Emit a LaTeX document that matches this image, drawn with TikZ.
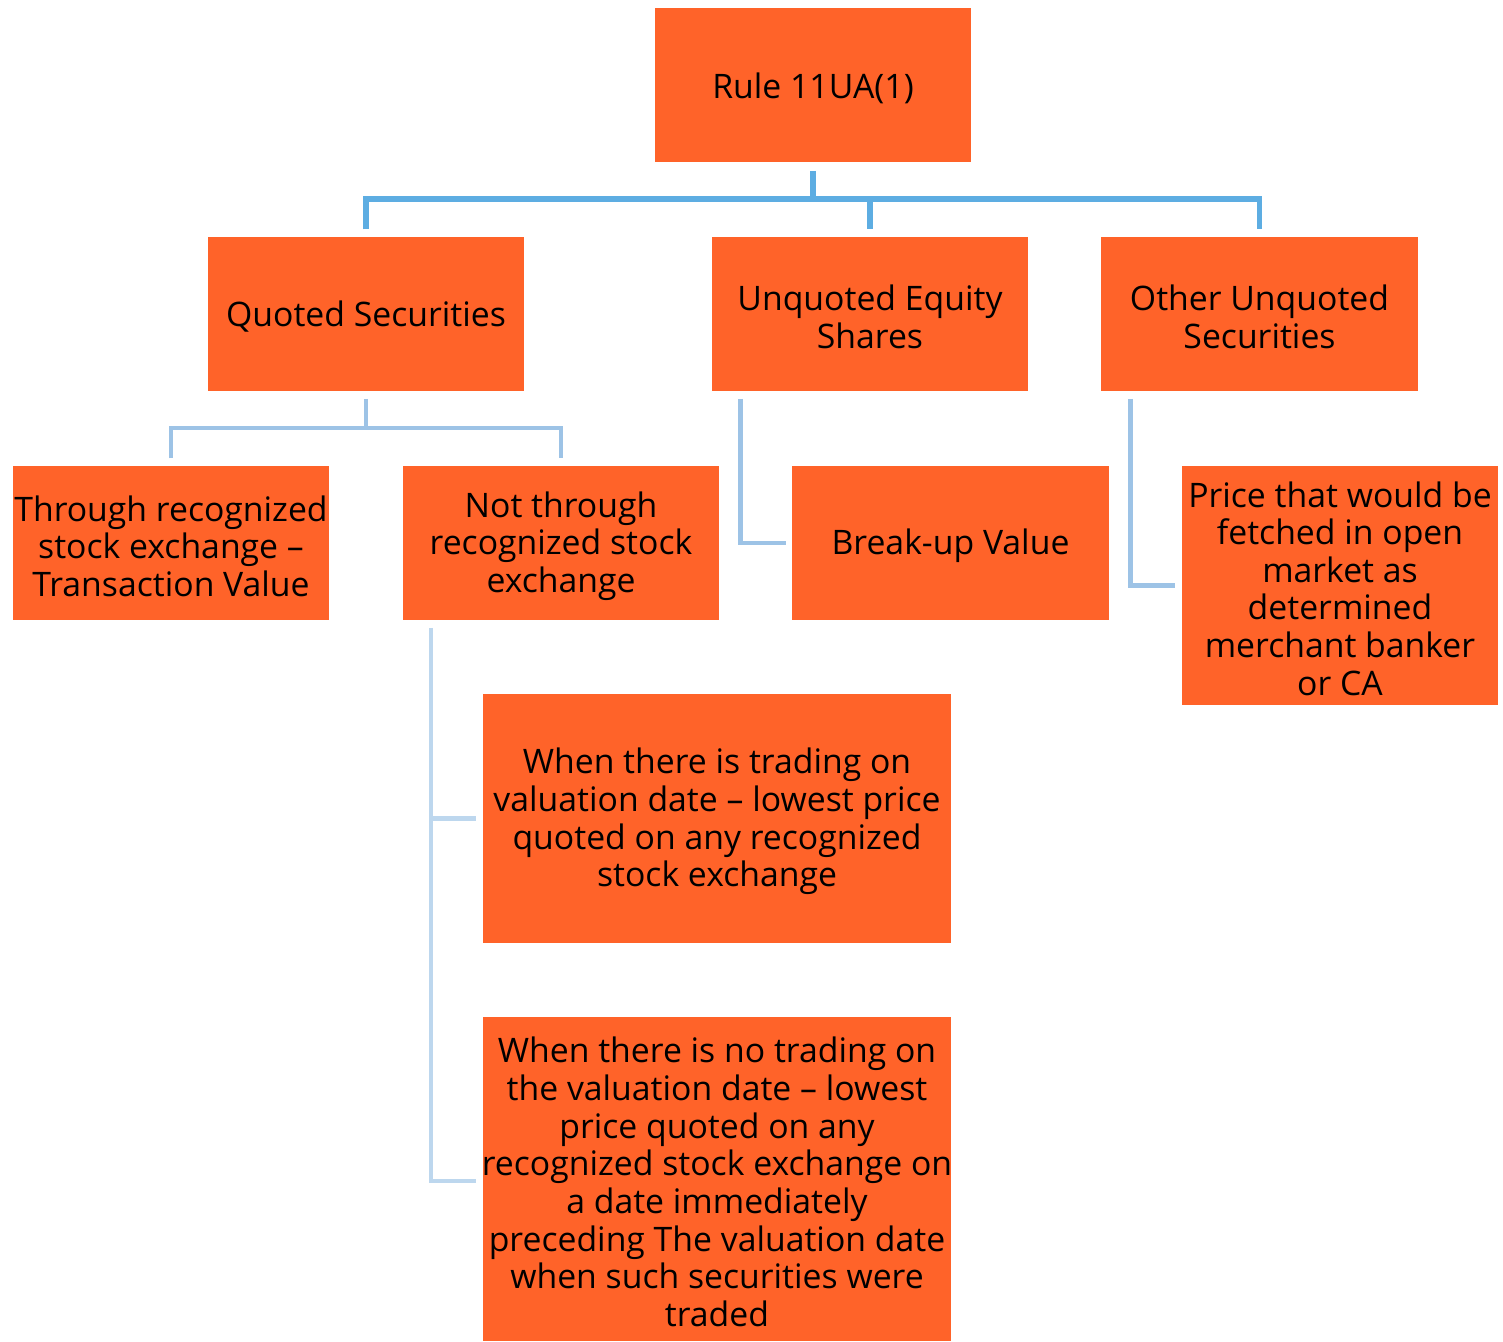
\documentclass[tikz,border=0pt]{standalone}
\usepackage{fontspec}
\setmainfont{Open Sans}
\usetikzlibrary{calc}
\definecolor{boxfill}{HTML}{FF6329}
\definecolor{linkA}{HTML}{5DADE2}
\definecolor{linkB}{HTML}{9DC3E6}
\definecolor{linkC}{HTML}{BDD7EE}
\tikzset{
  box/.style={fill=boxfill, draw=none, inner sep=0pt},
  boxtext/.style={inner sep=0pt, align=center, yshift=-0.85pt,
    font=\fontsize{9.6pt}{10.7pt}\selectfont, text=black},
  linkone/.style={draw=linkA, line width=1.45pt},
  linktwo/.style={draw=linkB, line width=1.3pt},
  linkthree/.style={draw=linkC, line width=1.3pt},
}
\begin{document}
\begin{tikzpicture}[x=0.01cm, y=-0.01cm]
\useasboundingbox (0,0) rectangle (1503,1341);

% boxes (centre, size) with their centred captions
\node[box, minimum width=3.16cm, minimum height=1.54cm,
  label={[boxtext]center:{Rule 11UA(1)}}] (rule) at (813,85) {};
\node[box, minimum width=3.16cm, minimum height=1.54cm,
  label={[boxtext]center:{Quoted Securities}}] (quoted) at (366,314) {};
\node[box, minimum width=3.16cm, minimum height=1.54cm,
  label={[boxtext]center:{Unquoted Equity\\Shares}}] (uneq) at (870,314) {};
\node[box, minimum width=3.17cm, minimum height=1.54cm,
  label={[boxtext]center:{Other Unquoted\\Securities}}] (other) at (1259.5,314) {};
\node[box, minimum width=3.16cm, minimum height=1.54cm,
  label={[boxtext]center:{Through recognized\\stock exchange --\\Transaction Value}}] (through) at (171,543) {};
\node[box, minimum width=3.16cm, minimum height=1.54cm,
  label={[boxtext]center:{Not through\\recognized stock\\exchange}}] (notthrough) at (561,543) {};
\node[box, minimum width=3.17cm, minimum height=1.54cm,
  label={[boxtext]center:{Break-up Value}}] (breakup) at (950.5,543) {};
\node[box, minimum width=3.16cm, minimum height=2.39cm,
  label={[boxtext]center:{Price that would be\\fetched in open\\market as\\determined\\merchant banker\\or CA}}] (price) at (1340,585.5) {};
\node[box, minimum width=4.68cm, minimum height=2.49cm,
  label={[boxtext]center:{When there is trading on\\valuation date -- lowest price\\quoted on any recognized\\stock exchange}}] (trade) at (717,818.5) {};
\node[box, minimum width=4.68cm, minimum height=3.24cm,
  label={[boxtext]center:{When there is no trading on\\the valuation date -- lowest\\price quoted on any\\recognized stock exchange on\\a date immediately\\preceding The valuation date\\when such securities were\\traded}}] (notrade) at (717,1179) {};

% first level bus
\coordinate (busone) at (0,199);
\draw[linkone] ($(rule.south)+(0,8)$) -- (rule.south |- busone);
\draw[linkone] ($(quoted.north)+(0,-7)$) -- (quoted.north |- busone) -- (other.north |- busone) -- ($(other.north)+(0,-7)$);
\draw[linkone] (uneq.north |- busone) -- ($(uneq.north)+(0,-7)$);

% quoted securities split
\coordinate (bustwo) at (0,428);
\draw[linktwo] ($(quoted.south)+(0,7)$) -- (quoted.south |- bustwo);
\draw[linktwo] ($(through.north)+(0,-7)$) -- (through.north |- bustwo) -- (notthrough.north |- bustwo) -- ($(notthrough.north)+(0,-7)$);

% side links
\draw[linktwo] ($(uneq.south west)+(29,7)$) |- ($(breakup.west)+(-5,0)$);
\draw[linktwo] ($(other.south west)+(30,7)$) |- ($(price.west)+(-6,0)$);

% not-through branches
\coordinate (spine) at ($(notthrough.south west)+(29,7)$);
\draw[linkthree] (spine) |- ($(notrade.west)+(-6,2)$);
\draw[linkthree] (spine |- trade.west) -- ($(trade.west)+(-6,0)$);
\end{tikzpicture}
\end{document}
